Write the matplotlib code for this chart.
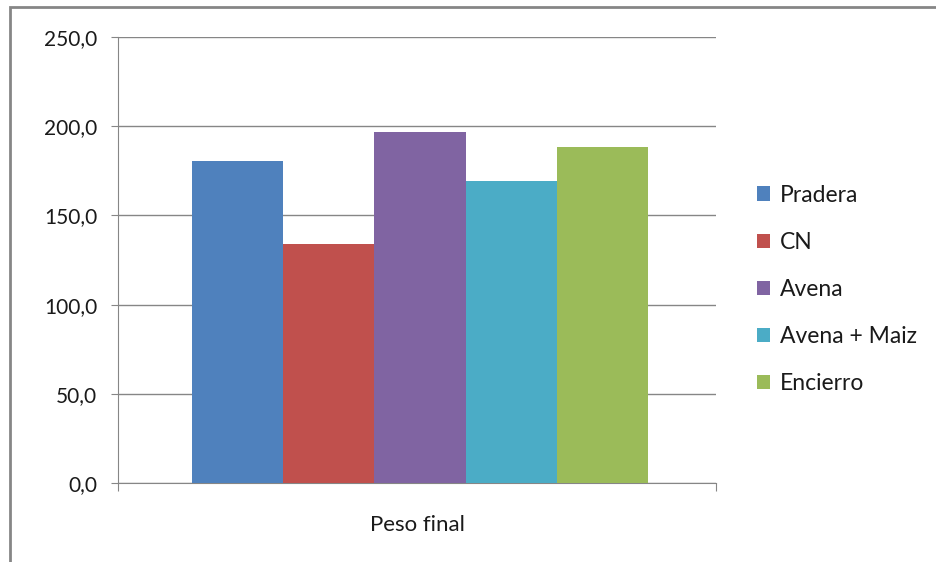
import matplotlib.pyplot as plt
from matplotlib.patches import Rectangle
from matplotlib.ticker import FuncFormatter
import numpy as np

categories = ["Peso final"]
series = ["Pradera", "CN", "Avena", "Avena + Maiz", "Encierro"]
values = [180.6, 133.9, 196.9, 169.2, 188.2]
colors = ["#4f81bd", "#c0504d", "#8064a2", "#4bacc6", "#9bbb59"]

plt.rcParams['font.family'] = ['Lato', 'DejaVu Sans']

fig = plt.figure(figsize=(9.36, 5.62), dpi=100)
ax = fig.add_axes([118 / 936, 1 - 483 / 562, (716 - 118) / 936, (483 - 37) / 562])

bar_width = 0.1525
x = np.arange(len(categories))
offsets = (np.arange(len(series)) - (len(series) - 1) / 2) * bar_width
for i, name in enumerate(series):
    ax.bar(x + offsets[i], values[i], width=bar_width, color=colors[i], label=name, zorder=3)

ax.set_xlim(-0.505, 0.495)
ax.set_ylim(0, 250)
ax.set_yticks(np.arange(0, 251, 50))
ax.yaxis.set_major_formatter(FuncFormatter(lambda v, p: f"{v:.1f}".replace(".", ",")))
ax.set_xticks([-0.505, 0.495])
ax.set_xticklabels(["", ""])
ax.tick_params(axis='x', length=6, color="#868686", direction='out')
ax.tick_params(axis='y', length=5, colors="#868686", labelcolor="#1a1a1a", labelsize=15, pad=10)
ax.text(-0.005, -0.095, categories[0], transform=ax.get_xaxis_transform(), ha='center', va='center',
        fontsize=16, color="#1a1a1a")

ax.grid(axis='y', color="#868686", linewidth=1, zorder=0)
for s in ["top", "right"]:
    ax.spines[s].set_visible(False)
ax.spines["left"].set_color("#868686")
ax.spines["bottom"].set_color("#868686")

leg = ax.legend(loc='upper left', bbox_to_anchor=(736 / 936, 1 - 164 / 562), bbox_transform=fig.transFigure,
                frameon=False, fontsize=16.5, handlelength=0.57, handleheight=0.57, handletextpad=0.45,
                labelspacing=1.14)
for t in leg.get_texts():
    t.set_color("#1a1a1a")

# outer chart border (top and left visible)
fig.patches.append(Rectangle((10 / 936, -0.1), 1.2, 1 - 7 / 562 + 0.1, transform=fig.transFigure,
                             fill=False, edgecolor="#868686", linewidth=2))

fig.savefig("out.png", dpi=100)
